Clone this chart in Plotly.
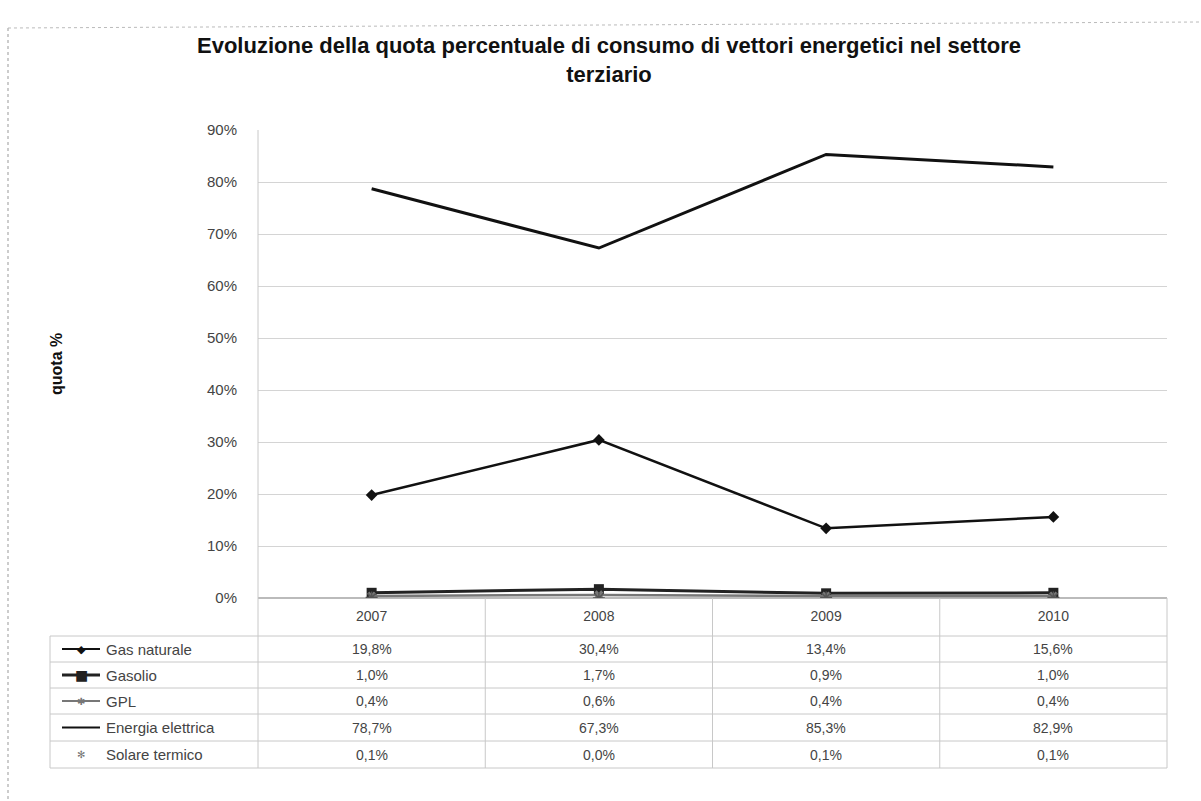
import plotly.graph_objects as go

years = ["2007", "2008", "2009", "2010"]
series_names = ["Gas naturale", "Gasolio", "GPL", "Energia elettrica", "Solare termico"]
gas_naturale = [19.8, 30.4, 13.4, 15.6]
gasolio = [1.0, 1.7, 0.9, 1.0]
gpl = [0.4, 0.6, 0.4, 0.4]
energia_elettrica = [78.7, 67.3, 85.3, 82.9]
solare_termico = [0.1, 0.0, 0.1, 0.1]
y_ticks = [0, 10, 20, 30, 40, 50, 60, 70, 80, 90]
y_tick_labels = [f"{v}%" for v in y_ticks]

values = [gas_naturale, gasolio, gpl, energia_elettrica, solare_termico]

W, H = 1201, 801
def px(x): return x / W
def py(y): return 1 - y / H

# plot area in pixels
L, R, T, B = 258, 1167, 130, 598
row_edges = [598, 636, 662, 688, 714, 741, 768]
tab_left = 50

fig = go.Figure()

styles = [
    dict(mode="lines+markers", line=dict(color="#111", width=2.5), marker=dict(symbol="diamond", size=9, color="#111")),
    dict(mode="lines+markers", line=dict(color="#222", width=3), marker=dict(symbol="square", size=10, color="#222")),
    dict(mode="lines+markers", line=dict(color="#777", width=2.5), marker=dict(symbol="x", size=8, color="#777")),
    dict(mode="lines", line=dict(color="#111", width=3)),
    dict(mode="markers", marker=dict(symbol="asterisk-open", size=10, color="#555", line=dict(width=1.5, color="#555"))),
]
for name, vals, st in zip(series_names, values, styles):
    fig.add_trace(go.Scatter(x=years, y=vals, name=name, **st))

shapes = []
line_col = "#c8c8c8"
for y in row_edges[1:]:
    shapes.append(dict(type="line", xref="paper", yref="paper", x0=px(tab_left), x1=px(R), y0=py(y), y1=py(y),
                       line=dict(color=line_col, width=1)))
shapes.append(dict(type="line", xref="paper", yref="paper", x0=px(tab_left), x1=px(tab_left),
                   y0=py(row_edges[1]), y1=py(row_edges[-1]), line=dict(color=line_col, width=1)))
cat_w = (R - L) / len(years)
for i in range(len(years) + 1):
    x = L + i * cat_w
    y_top = T if i == 0 else B
    shapes.append(dict(type="line", xref="paper", yref="paper", x0=px(x), x1=px(x),
                       y0=py(y_top), y1=py(row_edges[-1]), line=dict(color=line_col, width=1)))
# chart area border (left / top)
shapes.append(dict(type="line", xref="paper", yref="paper", x0=px(8), x1=px(8), y0=py(28), y1=0,
                   line=dict(color="#999", width=1, dash="dot")))
shapes.append(dict(type="line", xref="paper", yref="paper", x0=px(8), x1=1, y0=py(28), y1=py(22),
                   line=dict(color="#bbb", width=1, dash="dot")))

annotations = []
glyphs = ["◆", "■", "✱", "", "✻"]
glyph_sizes = [11, 14, 10, 10, 10]
glyph_cols = ["#111", "#222", "#777", "#111", "#777"]
line_w = [2, 3, 2, 2, 0]
for r, name in enumerate(series_names):
    yc = (row_edges[r + 1] + row_edges[r + 2]) / 2
    if line_w[r]:
        shapes.append(dict(type="line", xref="paper", yref="paper", x0=px(62), x1=px(100), y0=py(yc), y1=py(yc),
                           line=dict(color=glyph_cols[r], width=line_w[r])))
    if glyphs[r]:
        annotations.append(dict(x=px(81), y=py(yc), xref="paper", yref="paper", text=glyphs[r], showarrow=False,
                                font=dict(size=glyph_sizes[r], color=glyph_cols[r], family="DejaVu Sans"),
                                xanchor="center", yanchor="middle"))
    annotations.append(dict(x=px(104), y=py(yc), xref="paper", yref="paper", text=name, showarrow=False,
                            font=dict(size=15, color="#444", family="Liberation Sans"),
                            xanchor="left", yanchor="middle"))
    for c, v in enumerate(values[r]):
        xc = L + (c + 0.5) * cat_w
        txt = f"{v:.1f}".replace(".", ",") + "%"
        annotations.append(dict(x=px(xc), y=py(yc), xref="paper", yref="paper", text=txt, showarrow=False,
                                font=dict(size=14, color="#444", family="Liberation Sans"),
                                xanchor="center", yanchor="middle"))

annotations.append(dict(x=px(609), y=py(60), xref="paper", yref="paper",
                        text="<b>Evoluzione della quota percentuale di consumo di vettori energetici nel settore<br>terziario</b>",
                        showarrow=False, font=dict(size=22, color="#111", family="Liberation Sans"),
                        xanchor="center", yanchor="middle"))
annotations.append(dict(x=px(56), y=py(364), xref="paper", yref="paper", text="<b>quota %</b>",
                        showarrow=False, textangle=-90, font=dict(size=16, color="#111", family="Liberation Sans"),
                        xanchor="center", yanchor="middle"))

fig.update_layout(
    width=W, height=H,
    margin=dict(l=0, r=0, t=0, b=0),
    paper_bgcolor="white", plot_bgcolor="white",
    showlegend=False,
    shapes=shapes,
    annotations=annotations,
    xaxis=dict(domain=[px(L), px(R)], type="category", range=[-0.5, 3.5], showgrid=False,
               showline=False, ticks="", tickfont=dict(size=14, color="#444", family="Liberation Sans"),
               ticklabelstandoff=8, automargin=False),
    yaxis=dict(domain=[py(B), py(T)], range=[0, 90], tickvals=y_ticks, ticktext=y_tick_labels,
               showgrid=True, gridcolor="#d4d4d4", gridwidth=1, zeroline=True, zerolinecolor="#bbb",
               showline=False, ticks="", tickfont=dict(size=15, color="#444", family="Liberation Sans"),
               ticklabelstandoff=20, automargin=False),
    font=dict(family="Liberation Sans"),
)

fig.write_html("out.html", config={"displayModeBar": False})
with open("out.html", "r", encoding="utf-8") as f:
    html = f.read()
html = html.replace("<head>", "<head><style>html,body{margin:0;padding:0;overflow:hidden;}</style>", 1)
with open("out.html", "w", encoding="utf-8") as f:
    f.write(html)
